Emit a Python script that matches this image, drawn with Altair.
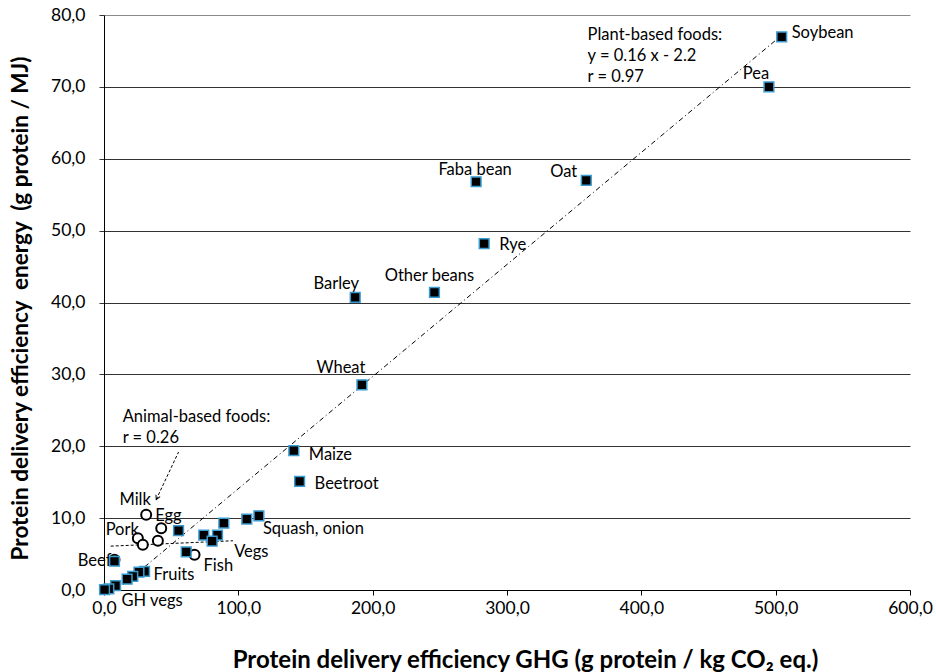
import altair as alt
import pandas as pd

# ---------------- data ----------------
plant_names = ["Soybean", "Pea", "Oat", "Faba bean", "Rye", "Other beans", "Barley",
               "Wheat", "Maize", "Beetroot", "Squash, onion", "Onion", "Veg A", "Veg B",
               "Veg C", "Veg D", "Vegs", "Veg E", "Root veg", "Fruits", "Fruit B",
               "Fruit C", "Fruit D", "GH veg A", "GH veg B", "GH vegs"]
plant_x = [504.5, 495.0, 359.0, 277.0, 283.0, 246.0, 187.0,
           192.0, 141.3, 145.6, 115.3, 106.3, 89.2, 55.5,
           74.3, 84.5, 80.5, 61.2, 7.8, 30.2, 26.0,
           21.4, 17.2, 8.6, 3.6, 0.4]
plant_y = [76.95, 70.0, 57.0, 56.8, 48.2, 41.4, 40.7,
           28.55, 19.4, 15.1, 10.33, 9.87, 9.3, 8.25,
           7.65, 7.65, 6.8, 5.3, 4.0, 2.6, 2.5,
           1.9, 1.5, 0.6, 0.14, 0.04]

animal_names = ["Milk", "Egg", "Pork", "Pork 2", "Poultry", "Fish", "Beef"]
animal_x = [31.4, 42.6, 25.2, 28.9, 40.1, 67.4, 7.8]
animal_y = [10.47, 8.6, 7.2, 6.3, 6.85, 4.9, 4.2]

# trend lines (end points as drawn)
plant_trend_x = [9.6, 504.0]
plant_trend_y = [0.0, 77.1]
animal_trend_x = [5.0, 96.0]
animal_trend_y = [6.1, 6.85]

# arrow (start -> tip)
arrow_x = [55.5, 38.9]
arrow_y = [19.2, 12.6]

# annotation texts
note_text = ["Plant-based foods:", "y = 0.16 x - 2.2", "r = 0.97",
             "Animal-based foods:", "r = 0.26"]
note_x = [360.0, 360.0, 360.0, 13.9, 13.9]
note_y = [77.2, 74.3, 71.4, 24.1, 21.2]

x_ticks = [0, 100, 200, 300, 400, 500, 600]
y_ticks = [0, 10, 20, 30, 40, 50, 60, 70, 80]

# ---------------- styling ----------------
FONT = "Lato"
LBL = 16.5
label_style = {  # name: (align, dx, dy)
    "Soybean": ("left", 10, -4),
    "Pea": ("center", -13, -13),
    "Oat": ("right", -9, -8),
    "Faba bean": ("center", -1, -12),
    "Rye": ("left", 15, 1),
    "Other beans": ("center", -5, -16),
    "Barley": ("center", -19, -13),
    "Wheat": ("center", -21, -17),
    "Maize": ("left", 15, 4),
    "Beetroot": ("left", 15, 3),
    "Squash, onion": ("left", 4, 13),
    "Vegs": ("left", 22, 11),
    "Fruits": ("left", 9, 4),
    "GH vegs": ("left", 17, 11),
    "Fish": ("left", 9, 11),
    "Beef": ("right", -3, 1),
    "Pork": ("right", 1, -8),
    "Milk": ("center", -11, -15),
    "Egg": ("left", -6, -12),
}

plant_df = pd.DataFrame({"x": plant_x, "y": plant_y, "name": plant_names})
animal_df = pd.DataFrame({"x": animal_x, "y": animal_y, "name": animal_names})
all_df = pd.concat([plant_df, animal_df], ignore_index=True)
ptrend_df = pd.DataFrame({"x": plant_trend_x, "y": plant_trend_y})
atrend_df = pd.DataFrame({"x": animal_trend_x, "y": animal_trend_y})
arrow_df = pd.DataFrame({"x": arrow_x, "y": arrow_y})
tip_df = arrow_df.iloc[[1]]
note_df = pd.DataFrame({"x": note_x, "y": note_y, "text": note_text})

fmt = "replace(format(datum.value, '.1f'), '.', ',')"

X = alt.X("x:Q",
          scale=alt.Scale(domain=[0, 600], nice=False, zero=False),
          axis=alt.Axis(values=x_ticks, labelExpr=fmt, grid=False, labelFlush=False,
                        domainColor="black", tickColor="black", tickSize=5,
                        labelFontSize=17.5, labelColor="black", labelFont=FONT,
                        labelPadding=4,
                        title="Protein delivery efficiency GHG (g protein / kg CO\u2082 eq.)",
                        titleFont=FONT, titleFontSize=24, titleFontWeight="bold",
                        titleColor="black", titleX=421, titleY=70,
                        titleBaseline="middle", titleAlign="center"))
Y = alt.Y("y:Q",
          scale=alt.Scale(domain=[0, 80], nice=False, zero=False),
          axis=alt.Axis(values=y_ticks, labelExpr=fmt, grid=True, labelFlush=False,
                        gridColor={"condition": {"test": "datum.value === 80",
                                                 "value": "#8a8a8a"},
                                   "value": "#333333"},
                        gridWidth=1,
                        domainColor="black", tickColor="#333333", tickSize=5,
                        labelFontSize=17.5, labelColor="black", labelFont=FONT,
                        labelPadding=14,
                        title="Protein delivery efficiency\u00a0 energy\u00a0 (g protein / MJ)",
                        titleFont=FONT, titleFontSize=22.5, titleFontWeight="bold",
                        titleColor="black", titleX=-84, titleY=293,
                        titleAngle=-90, titleBaseline="middle", titleAlign="center"))

layers = []

layers.append(alt.Chart(ptrend_df).mark_line(color="black", strokeWidth=1,
                                              strokeDash=[5, 3, 1, 3]).encode(x=X, y=Y))
layers.append(alt.Chart(atrend_df).mark_line(color="black", strokeWidth=1,
                                             strokeDash=[3, 2]).encode(x=X, y=Y))
layers.append(alt.Chart(arrow_df).mark_line(color="black", strokeWidth=1,
                                            strokeDash=[3, 2]).encode(x=X, y=Y))
layers.append(alt.Chart(tip_df).mark_point(shape="M -0.55 -1 L 0 0 L 0.55 -1",
                                           filled=False, stroke="black", strokeWidth=1,
                                           size=70, angle=25, opacity=1).encode(x=X, y=Y))

for name, (align, dx, dy) in label_style.items():
    layers.append(
        alt.Chart(all_df).transform_filter(alt.datum.name == name)
        .mark_text(align=align, baseline="middle", dx=dx, dy=dy, font=FONT,
                   fontSize=LBL, color="black")
        .encode(x=X, y=Y, text=alt.value(name))
    )

layers.append(alt.Chart(animal_df).mark_point(shape="circle", filled=True, fill="white",
                                              stroke="black", strokeWidth=2, size=100,
                                              opacity=1).encode(x=X, y=Y))
layers.append(alt.Chart(plant_df).mark_point(shape="square", filled=True, fill="black",
                                             stroke="#3A9BD0", strokeWidth=1.5, size=95,
                                             opacity=1).encode(x=X, y=Y))

layers.append(alt.Chart(note_df).mark_text(align="left", baseline="middle", font=FONT,
                                           fontSize=LBL, color="black")
              .encode(x=X, y=Y, text="text:N"))

chart = alt.layer(*layers).properties(
    width=806, height=575,
    autosize=alt.AutoSizeParams(type="none"),
    padding={"left": 104, "top": 15, "right": 26, "bottom": 82},
    background="white",
).configure_view(stroke=None)

chart.save("out.html", embed_options={"renderer": "svg", "actions": False})
